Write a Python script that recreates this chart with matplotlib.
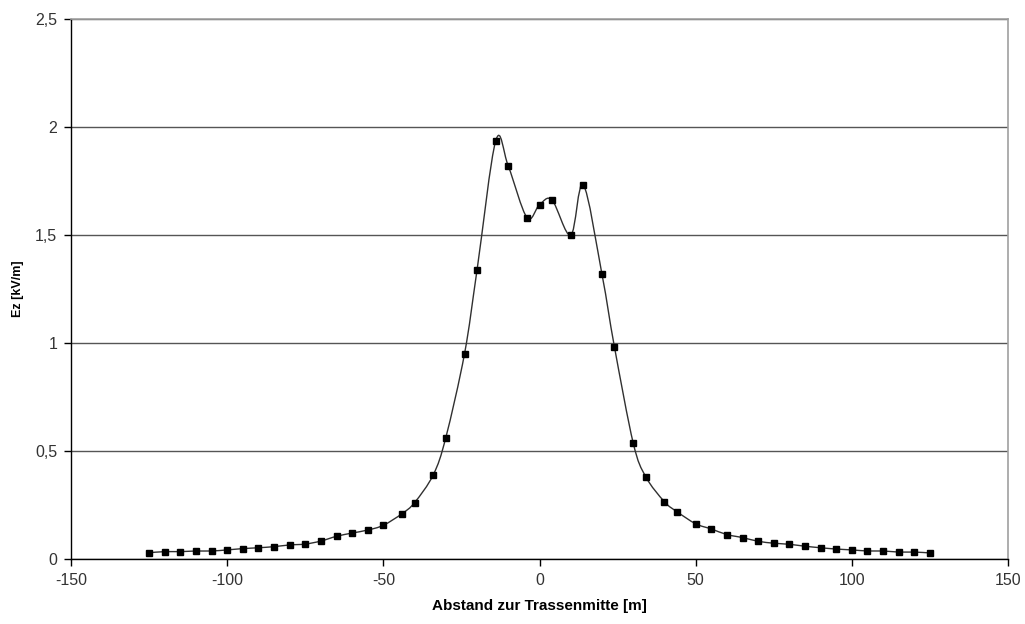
import matplotlib.pyplot as plt
import numpy as np
from matplotlib.path import Path
from matplotlib.patches import PathPatch

plt.rcParams['font.family'] = ['Liberation Sans', 'DejaVu Sans']
plt.rcParams['axes.unicode_minus'] = False

# Abstand zur Trassenmitte [m] und Feldstaerke Ez [kV/m]
abstand = [-125, -120, -115, -110, -105, -100, -95, -90, -85, -80, -75, -70, -65, -60, -55,
           -50, -44, -40, -34, -30, -24, -20, -14, -10, -4, 0, 4, 10, 14, 20, 24, 30, 34,
           40, 44, 50, 55, 60, 65, 70, 75, 80, 85, 90, 95, 100, 105, 110, 115, 120, 125]
ez = [0.029, 0.034, 0.034, 0.037, 0.037, 0.042, 0.048, 0.052, 0.057, 0.065, 0.069, 0.083,
      0.105, 0.120, 0.134, 0.156, 0.210, 0.261, 0.390, 0.562, 0.951, 1.338, 1.937, 1.819,
      1.580, 1.640, 1.662, 1.499, 1.733, 1.318, 0.981, 0.537, 0.381, 0.265, 0.219, 0.163,
      0.139, 0.113, 0.099, 0.082, 0.073, 0.068, 0.059, 0.052, 0.046, 0.042, 0.037, 0.037,
      0.032, 0.032, 0.028]

fig = plt.figure(figsize=(10.25, 6.24), dpi=100)
ax = fig.add_axes([0.0693, 0.1042, 0.9141, 0.8654])

# geglaettete Linie wie in Excel (Bezier-Kurve durch die Messpunkte)
x = np.array(abstand, dtype=float)
y = np.array(ez, dtype=float)
verts = [(x[0], y[0])]
codes = [Path.MOVETO]
for i in range(len(x) - 1):
    x0, y0 = (x[i - 1], y[i - 1]) if i > 0 else (x[i], y[i])
    x3, y3 = (x[i + 2], y[i + 2]) if i + 2 < len(x) else (x[i + 1], y[i + 1])
    c1 = (x[i] + (x[i + 1] - x0) / 6, y[i] + (y[i + 1] - y0) / 6)
    c2 = (x[i + 1] - (x3 - x[i]) / 6, y[i + 1] - (y3 - y[i]) / 6)
    verts += [c1, c2, (x[i + 1], y[i + 1])]
    codes += [Path.CURVE4] * 3
ax.add_patch(PathPatch(Path(verts, codes), fill=False, edgecolor='#303030', lw=1.0, zorder=3))
ax.plot(abstand, ez, ls='none', marker='s', ms=5, color='black', zorder=4)

ax.set_xlim(-150, 150)
ax.set_ylim(0, 2.5)
ax.set_xticks(np.arange(-150, 151, 50))
ax.set_yticks(np.arange(0, 2.51, 0.5))
ax.set_yticklabels(['0', '0,5', '1', '1,5', '2', '2,5'])
ax.yaxis.grid(True, color='#555555', lw=1.0)
ax.set_axisbelow(True)

for s in ['left', 'bottom']:
    ax.spines[s].set_color('black')
    ax.spines[s].set_linewidth(1.0)
for s in ['top', 'right']:
    ax.spines[s].set_color('#a0a0a0')
    ax.spines[s].set_linewidth(1.2)

ax.tick_params(direction='out', length=5, width=1, labelsize=11.5, colors='black',
               labelcolor='#333333', pad=5)

ax.set_xlabel('Abstand zur Trassenmitte [m]', fontsize=11, fontweight='bold', labelpad=8)
ax.set_ylabel('Ez [kV/m]', fontsize=9, fontweight='bold', labelpad=8)

fig.savefig('out.png', dpi=100, facecolor='white')
